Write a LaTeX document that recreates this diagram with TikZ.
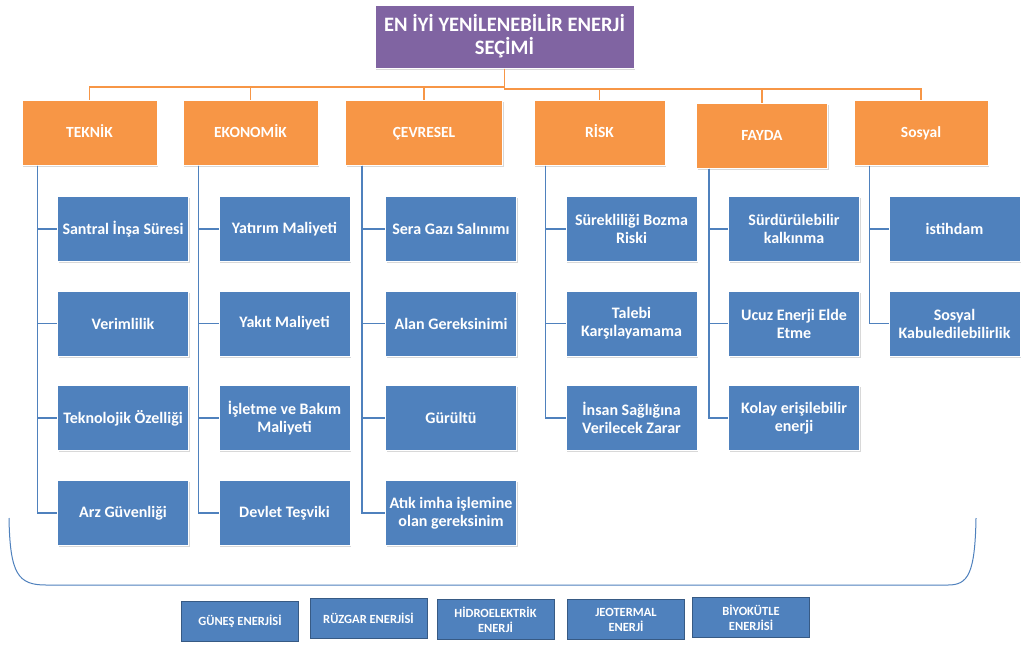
\documentclass[tikz,border=0pt]{standalone}
\usepackage{fontspec}
\setmainfont{Carlito}
\usetikzlibrary{shadows}
\definecolor{mor}{HTML}{8064A2}
\definecolor{turuncu}{HTML}{F79646}
\definecolor{mavi}{HTML}{4F81BD}
\tikzset{
  golge/.style = {drop shadow = {shadow xshift = 1pt, shadow yshift = -1.5pt, opacity = .3}},
  baslik/.style = {fill = mor, draw = white, line width = 1pt, golge, text = white,
    minimum width = 259pt, minimum height = 63pt, align = center,
    font = \bfseries\fontsize{20.5}{23}\selectfont},
  kriter/.style = {fill = turuncu, draw = white, line width = 1pt, golge, text = white,
    minimum height = 65pt, align = center, text height = 10pt, text depth = 0pt,
    font = \bfseries\fontsize{15.5}{18}\selectfont},
  alt/.style = {fill = mavi, draw = white, line width = 1pt, golge, text = white,
    minimum width = 131pt, minimum height = 65pt, align = center, inner sep = 1pt,
    font = \bfseries\fontsize{16}{18}\selectfont},
  enerji/.style = {fill = mavi, draw = mavi!70!black, line width = .6pt, text = white,
    minimum width = 117pt, minimum height = 40pt, align = center,
    font = \bfseries\fontsize{12.5}{15}\selectfont},
  oline/.style = {color = turuncu, line width = 1.2pt},
  bline/.style = {color = mavi, line width = 1.2pt}
}
\begin{document}
\begin{tikzpicture}[x = 1pt, y = -1pt]
\useasboundingbox[fill = white] (0,0) rectangle (1024,648);

% ana baslik
\node (T) [baslik] at (504.5,36.5) {EN İYİ YENİLENEBİLİR ENERJİ\\SEÇİMİ};

% kriterler
\node (K1) [kriter, minimum width = 135pt] at (89.5,132.5) {TEKNİK};
\node (K2) [kriter, minimum width = 135pt] at (250.5,132.5) {EKONOMİK};
\node (K3) [kriter, minimum width = 157pt] at (424,132.5) {ÇEVRESEL};
\node (K4) [kriter, minimum width = 131pt] at (599.5,132.5) {RİSK};
\node (K5) [kriter, minimum width = 131pt] at (762,135.5) {FAYDA};
\node (K6) [kriter, minimum width = 134pt] at (921,132.5) {Sosyal};

\coordinate (busL) at (504.5,87);
\coordinate (busR) at (504.5,89);
\draw [oline] (T.south) -- (busL) -| (K1.north);
\draw [oline] (busL) -| (K2.north);
\draw [oline] (busL) -| (K3.north);
\draw [oline] (T.south) -- (busR) -| (K4.north);
\draw [oline] (busR) -| (K5.north);
\draw [oline] (busR) -| (K6.north);

% alt kriterler
\node (A11) [alt] at (123,229) {Santral İnşa Süresi};
\node (A12) [alt] at (123,323.5) {Verimlilik};
\node (A13) [alt] at (123,418) {Teknolojik Özelliği};
\node (A14) [alt] at (123,513) {Arz Güvenliği};

\node (A21) [alt] at (284.5,229) {Yatırım Maliyeti};
\node (A22) [alt] at (284.5,323.5) {Yakıt Maliyeti};
\node (A23) [alt] at (284.5,418) {İşletme ve Bakım\\Maliyeti};
\node (A24) [alt] at (284.5,513) {Devlet Teşviki};

\node (A31) [alt] at (451,229) {Sera Gazı Salınımı};
\node (A32) [alt] at (451,323.5) {Alan Gereksinimi};
\node (A33) [alt] at (451,418) {Gürültü};
\node (A34) [alt] at (451,513) {Atık imha işlemine\\olan gereksinim};

\node (A41) [alt] at (631.5,229) {Sürekliliği Bozma\\Riski};
\node (A42) [alt] at (631.5,323.5) {Talebi\\Karşılayamama};
\node (A43) [alt] at (631.5,418) {İnsan Sağlığına\\Verilecek Zarar};

\node (A51) [alt] at (794,229) {Sürdürülebilir\\kalkınma};
\node (A52) [alt] at (794,323.5) {Ucuz Enerji Elde\\Etme};
\node (A53) [alt] at (794,418) {Kolay erişilebilir\\enerji};

\node (A61) [alt] at (954.5,229) {istihdam};
\node (A62) [alt] at (954.5,323.5) {Sosyal\\Kabuledilebilirlik};

\draw [bline] ([xshift = 16pt]K1.south west) |- (A11.west);
\draw [bline] ([xshift = 16pt]K1.south west) |- (A12.west);
\draw [bline] ([xshift = 16pt]K1.south west) |- (A13.west);
\draw [bline] ([xshift = 16pt]K1.south west) |- (A14.west);
\draw [bline] ([xshift = 16pt]K2.south west) |- (A21.west);
\draw [bline] ([xshift = 16pt]K2.south west) |- (A22.west);
\draw [bline] ([xshift = 16pt]K2.south west) |- (A23.west);
\draw [bline] ([xshift = 16pt]K2.south west) |- (A24.west);
\draw [bline] ([xshift = 17pt]K3.south west) |- (A31.west);
\draw [bline] ([xshift = 17pt]K3.south west) |- (A32.west);
\draw [bline] ([xshift = 17pt]K3.south west) |- (A33.west);
\draw [bline] ([xshift = 17pt]K3.south west) |- (A34.west);
\draw [bline] ([xshift = 12pt]K4.south west) |- (A41.west);
\draw [bline] ([xshift = 12pt]K4.south west) |- (A42.west);
\draw [bline] ([xshift = 12pt]K4.south west) |- (A43.west);
\draw [bline] ([xshift = 13pt]K5.south west) |- (A51.west);
\draw [bline] ([xshift = 13pt]K5.south west) |- (A52.west);
\draw [bline] ([xshift = 13pt]K5.south west) |- (A53.west);
\draw [bline] ([xshift = 16pt]K6.south west) |- (A61.west);
\draw [bline] ([xshift = 16pt]K6.south west) |- (A62.west);

% alttaki parantez
\draw [color = mavi, line width = 1pt] (9,518) .. controls (10,574) and (18,585) .. (46,585)
  -- (948,585) .. controls (968,585) and (975,574) .. (976,518);

% enerji kaynaklari
\node (E1) [enerji] at (240,621) {GÜNEŞ ENERJİSİ};
\node (E2) [enerji] at (368.5,618.5) {RÜZGAR ENERJİSİ};
\node (E3) [enerji] at (495.5,619.5) {HİDROELEKTRİK\\ENERJİ};
\node (E4) [enerji] at (626,619.5) {JEOTERMAL\\ENERJİ};
\node (E5) [enerji] at (751,617.5) {BİYOKÜTLE\\ENERJİSİ};
\end{tikzpicture}
\end{document}
